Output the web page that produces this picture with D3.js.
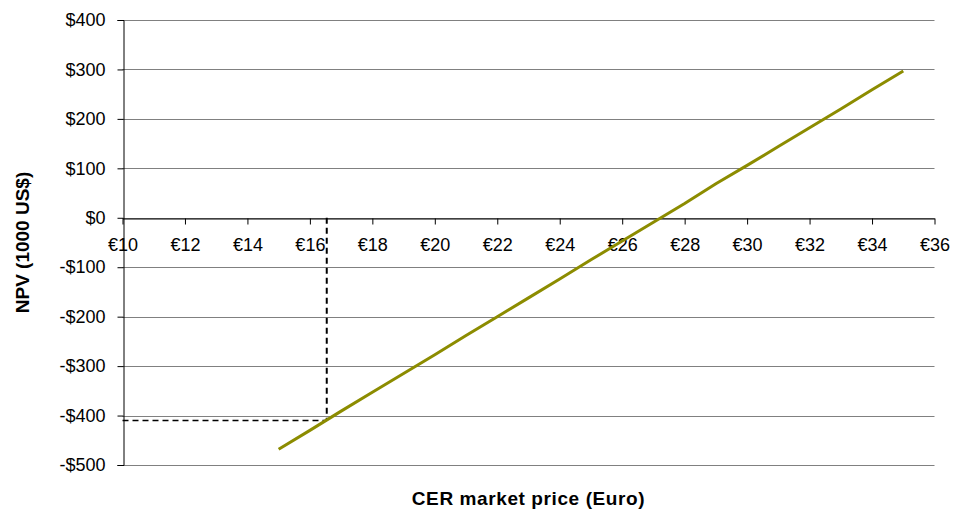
<!DOCTYPE html>
<html>
<head>
<meta charset="utf-8">
<script src="https://cdn.jsdelivr.net/npm/d3@7"></script>
<style>
  body { margin: 0; background: #fff; }
  text { font-family: "Liberation Sans", Arial, sans-serif; }
</style>
</head>
<body>
<div id="chart"></div>
<script>
// CER price (Euro) and NPV (1000 US$)
const prices = [15, 16, 17, 18, 19, 20, 21, 22, 23, 24, 25, 26, 27, 28, 29, 30, 31, 32, 33, 34, 35];
const npv = [-468, -430, -391, -353, -315, -277, -238, -200, -162, -124, -85, -47, -9, 29, 69, 106, 144, 182, 220, 259, 297];
const xTicks = [10, 12, 14, 16, 18, 20, 22, 24, 26, 28, 30, 32, 34, 36];
const yTicks = [-500, -400, -300, -200, -100, 0, 100, 200, 300, 400];
// break-even marker
const markerPrice = [16.54];
const markerNpv = [-410];

const width = 955, height = 513;
const margin = { top: 20, right: 20, bottom: 48, left: 122.5 };

const svg = d3.select('#chart')
  .append('svg')
  .attr('width', width)
  .attr('height', height);

const x = d3.scaleLinear()
  .domain([10, 36])
  .range([margin.left, 934.5]);

const y = d3.scaleLinear()
  .domain([-500, 400])
  .range([465, margin.top]);

// gridlines
svg.append('g')
  .selectAll('line')
  .data(yTicks)
  .enter()
  .append('line')
  .attr('x1', x(10))
  .attr('x2', x(36))
  .attr('y1', d => Math.round(y(d)) + 0.5)
  .attr('y2', d => Math.round(y(d)) + 0.5)
  .attr('stroke', '#808080')
  .attr('stroke-width', 1);

// y axis
const yAxis = svg.append('g')
  .attr('transform', 'translate(' + (Math.round(x(10)) + 0.5) + ',0)')
  .call(d3.axisLeft(y)
    .tickValues(yTicks)
    .tickSize(6)
    .tickPadding(12)
    .tickFormat(d => (d < 0 ? '-$' : '$') + Math.abs(d)));
yAxis.select('.domain').attr('stroke', '#000');
yAxis.selectAll('.tick line').attr('stroke', '#000');
yAxis.selectAll('.tick text')
  .style('font-size', '18px')
  .attr('fill', '#000');

// x axis on the zero line
const xAxis = svg.append('g')
  .attr('transform', 'translate(0,' + (Math.round(y(0)) + 0.5) + ')')
  .call(d3.axisBottom(x)
    .tickValues(xTicks)
    .tickSize(6)
    .tickSizeOuter(0)
    .tickPadding(14)
    .tickFormat(d => '€' + d));
xAxis.select('.domain').attr('stroke', '#000');
xAxis.selectAll('.tick line').attr('stroke', '#000');
xAxis.selectAll('.tick text')
  .style('font-size', '18px')
  .attr('fill', '#000');

// dashed marker lines
svg.append('line')
  .attr('x1', x(10))
  .attr('x2', x(markerPrice[0]))
  .attr('y1', y(markerNpv[0]))
  .attr('y2', y(markerNpv[0]))
  .attr('stroke', '#000')
  .attr('stroke-width', 1.5)
  .attr('stroke-dasharray', '6,4');

svg.append('line')
  .attr('x1', x(markerPrice[0]))
  .attr('x2', x(markerPrice[0]))
  .attr('y1', y(0))
  .attr('y2', y(markerNpv[0]))
  .attr('stroke', '#000')
  .attr('stroke-width', 2)
  .attr('stroke-dasharray', '6,4');

// NPV line
const line = d3.line()
  .x((d, i) => x(prices[i]))
  .y(d => y(d));

svg.append('path')
  .datum(npv)
  .attr('d', line)
  .attr('fill', 'none')
  .attr('stroke', '#8c8c00')
  .attr('stroke-width', 3);

// titles
svg.append('text')
  .attr('x', (x(10) + x(36)) / 2)
  .attr('y', 505)
  .attr('text-anchor', 'middle')
  .style('font-size', '19px')
  .style('font-weight', 'bold')
  .style('letter-spacing', '0.6px')
  .text('CER market price (Euro)');

svg.append('text')
  .attr('transform', 'translate(29,' + ((y(400) + y(-500)) / 2) + ') rotate(-90)')
  .attr('text-anchor', 'middle')
  .style('font-size', '19px')
  .style('font-weight', 'bold')
  .text('NPV (1000 US$)');
</script>
</body>
</html>
